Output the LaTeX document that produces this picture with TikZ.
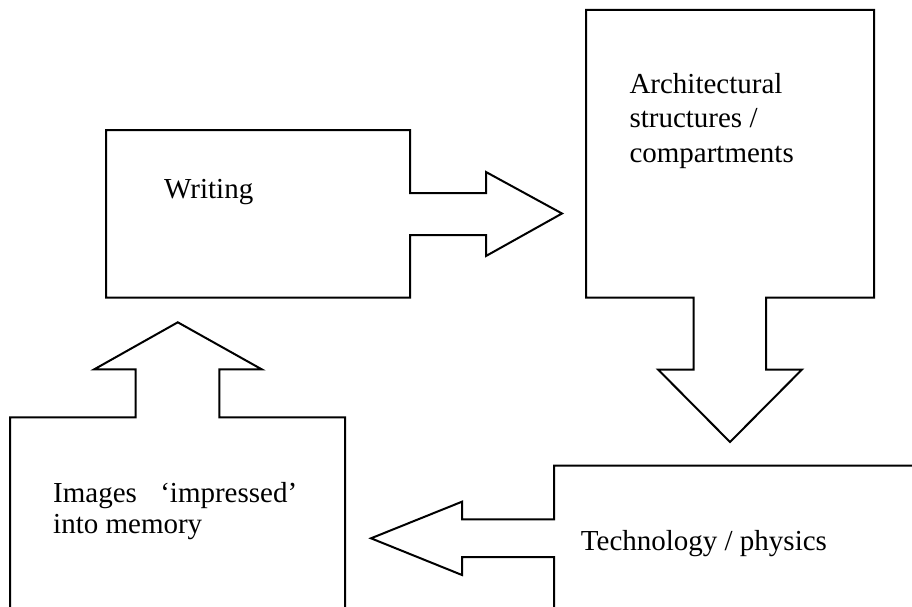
\documentclass[tikz,border=0pt]{standalone}
\usepackage{fontspec}
\setmainfont{Liberation Serif}
\tikzset{
  outline/.style={draw=black, line width=2pt, line join=miter},
  lbl/.style={inner sep=0pt, anchor=base west, font=\fontsize{29}{34}\selectfont}
}
\begin{document}
\begin{tikzpicture}[x=1pt,y=-1pt]
\useasboundingbox (0,0) rectangle (912,607);
% Writing box with right arrow
\draw[outline] (106,130) -- (410,130) -- (410,193) -- (486,193) -- (486,172)
  -- (562,213.5) -- (486,256) -- (486,235) -- (410,235) -- (410,297.5)
  -- (106,297.5) -- cycle;
% Architectural box with down arrow
\draw[outline] (586,10) -- (874,10) -- (874,297.5) -- (766,297.5) -- (766,369.5)
  -- (802,369.5) -- (730,442) -- (658,369.5) -- (693.5,369.5) -- (693.5,297.5)
  -- (586,297.5) -- cycle;
% Technology box with left arrow (cut by page)
\draw[outline] (912,465.7) -- (554,465.7) -- (554,519.4) -- (462,519.4) -- (462,501.7)
  -- (371,538.3) -- (462,575) -- (462,557) -- (554,557) -- (554,607);
% Images box with up arrow (cut by page)
\draw[outline] (10,607) -- (10,417.3) -- (135.7,417.3) -- (135.7,369.3) -- (94.3,369.3)
  -- (177.8,322.3) -- (261.7,369.3) -- (219.3,369.3) -- (219.3,417.3) -- (345,417.3)
  -- (345,607);
% Labels
\node[lbl] (writing) at (164,198.3) {Writing};
\node[lbl] (arch) at (629.3,93.3) {\vtop{\baselineskip=34.5pt \hbox{Architectural}\hbox{structures /}\hbox{compartments}}};
\node[lbl] (images) at (53,502) {\vtop{\baselineskip=31.5pt \hbox to 244pt{Images\hfill ‘impressed’}\hbox{into memory}}};
\node[lbl] (tech) at (580.7,550) {Technology / physics};
\end{tikzpicture}
\end{document}
